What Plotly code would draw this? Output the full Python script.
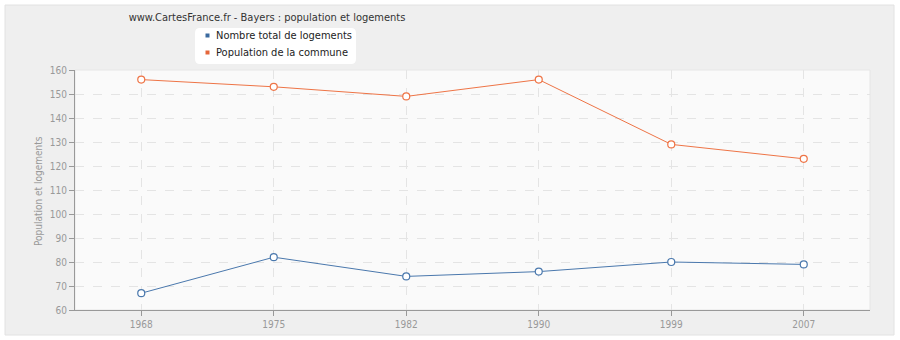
import plotly.graph_objects as go

years = ["1968", "1975", "1982", "1990", "1999", "2007"]
logements = [67, 82, 74, 76, 80, 79]
population = [156, 153, 149, 156, 129, 123]
y_ticks = [60, 70, 80, 90, 100, 110, 120, 130, 140, 150, 160]
legend_names = ["Nombre total de logements", "Population de la commune"]

BLUE = "#4a78ad"
ORANGE = "#ee7446"
BLUE_LEG = "#3b6a9f"
ORANGE_LEG = "#e5663a"
FONT = "DejaVu Sans Condensed, DejaVu Sans"

L, R, T, B = 75, 30, 70, 30
W, H = 900, 340
pw, ph = W - L - R, H - T - B

def px(x):
    return (x - L) / pw

def py(y):
    return (H - B - y) / ph

fig = go.Figure()

fig.add_trace(go.Scatter(
    x=years, y=population, mode="lines+markers", showlegend=False,
    name=legend_names[1],
    line=dict(color=ORANGE, width=1),
    marker=dict(symbol="circle", size=7, color="white", line=dict(color=ORANGE, width=1.2))))
fig.add_trace(go.Scatter(
    x=years, y=logements, mode="lines+markers", showlegend=False,
    name=legend_names[0],
    line=dict(color=BLUE, width=1),
    marker=dict(symbol="circle", size=7, color="white", line=dict(color=BLUE, width=1.2))))

# background panel and plot area
shapes = [
    dict(type="rect", xref="paper", yref="paper", layer="below",
         x0=px(5), x1=px(894), y0=py(335), y1=py(5),
         fillcolor="#efefef", line=dict(color="#e2e2e2", width=1)),
    dict(type="rect", xref="paper", yref="paper", layer="below",
         x0=0, x1=1, y0=0, y1=1,
         fillcolor="#fafafa", line=dict(color="#e6e6e6", width=1)),
]

# manual legend box (rounded)
bx0, bx1, by0, by1, rr = 195, 356, 28, 64, 5
path = (f"M {px(bx0 + rr)},{py(by0)} L {px(bx1 - rr)},{py(by0)} "
        f"Q {px(bx1)},{py(by0)} {px(bx1)},{py(by0 + rr)} "
        f"L {px(bx1)},{py(by1 - rr)} Q {px(bx1)},{py(by1)} {px(bx1 - rr)},{py(by1)} "
        f"L {px(bx0 + rr)},{py(by1)} Q {px(bx0)},{py(by1)} {px(bx0)},{py(by1 - rr)} "
        f"L {px(bx0)},{py(by0 + rr)} Q {px(bx0)},{py(by0)} {px(bx0 + rr)},{py(by0)} Z")
shapes.append(dict(type="path", xref="paper", yref="paper", path=path,
                   fillcolor="white", line=dict(width=0), layer="above"))

annotations = []
for i, (name, col) in enumerate(zip(legend_names, [BLUE_LEG, ORANGE_LEG])):
    cy = 35.5 + 17 * i
    shapes.append(dict(type="rect", xref="paper", yref="paper", layer="above",
                       x0=px(205.5), x1=px(209.5), y0=py(cy + 2), y1=py(cy - 2),
                       fillcolor=col, line=dict(width=0)))
    annotations.append(dict(text=name, xref="paper", yref="paper",
                            x=px(214), y=py(cy), xanchor="left", yanchor="middle",
                            showarrow=False,
                            font=dict(family=FONT, size=11, color="#222222")))

annotations.append(dict(text="Population et logements", xref="paper", yref="paper",
                        x=px(38), y=py(191), textangle=-90, showarrow=False,
                        xanchor="center", yanchor="middle",
                        font=dict(family=FONT, size=10, color="#999999")))

fig.update_layout(
    width=W, height=H,
    margin=dict(l=L, r=R, t=T, b=B, autoexpand=False),
    paper_bgcolor="white",
    plot_bgcolor="rgba(0,0,0,0)",
    shapes=shapes,
    annotations=annotations,
    font=dict(family=FONT, size=10, color="#999999"),
    title=dict(text="www.CartesFrance.fr - Bayers : population et logements",
               xref="container", x=267 / W, xanchor="center", y=1 - 17 / H, yanchor="middle",
               font=dict(family=FONT, size=11, color="#333333")),
    showlegend=False,
    hovermode="closest",
)

fig.update_xaxes(
    type="category", range=[-0.5, 5.5], automargin=False,
    showline=True, linecolor="#999999", linewidth=1,
    ticks="outside", ticklen=5, tickcolor="#999999",
    showgrid=True, gridcolor="#e4e4e4", griddash="dash", gridwidth=1,
    tickfont=dict(family=FONT, size=10, color="#999999"), zeroline=False, fixedrange=True,
)
fig.update_yaxes(
    range=[60, 160], tickvals=y_ticks, automargin=False,
    showline=True, linecolor="#999999", linewidth=1,
    ticks="outside", ticklen=5, tickcolor="#999999",
    showgrid=True, gridcolor="#e4e4e4", griddash="dash", gridwidth=1,
    tickfont=dict(family=FONT, size=10, color="#999999"), zeroline=False,
    fixedrange=True,
)

fig.write_html("out.html")
